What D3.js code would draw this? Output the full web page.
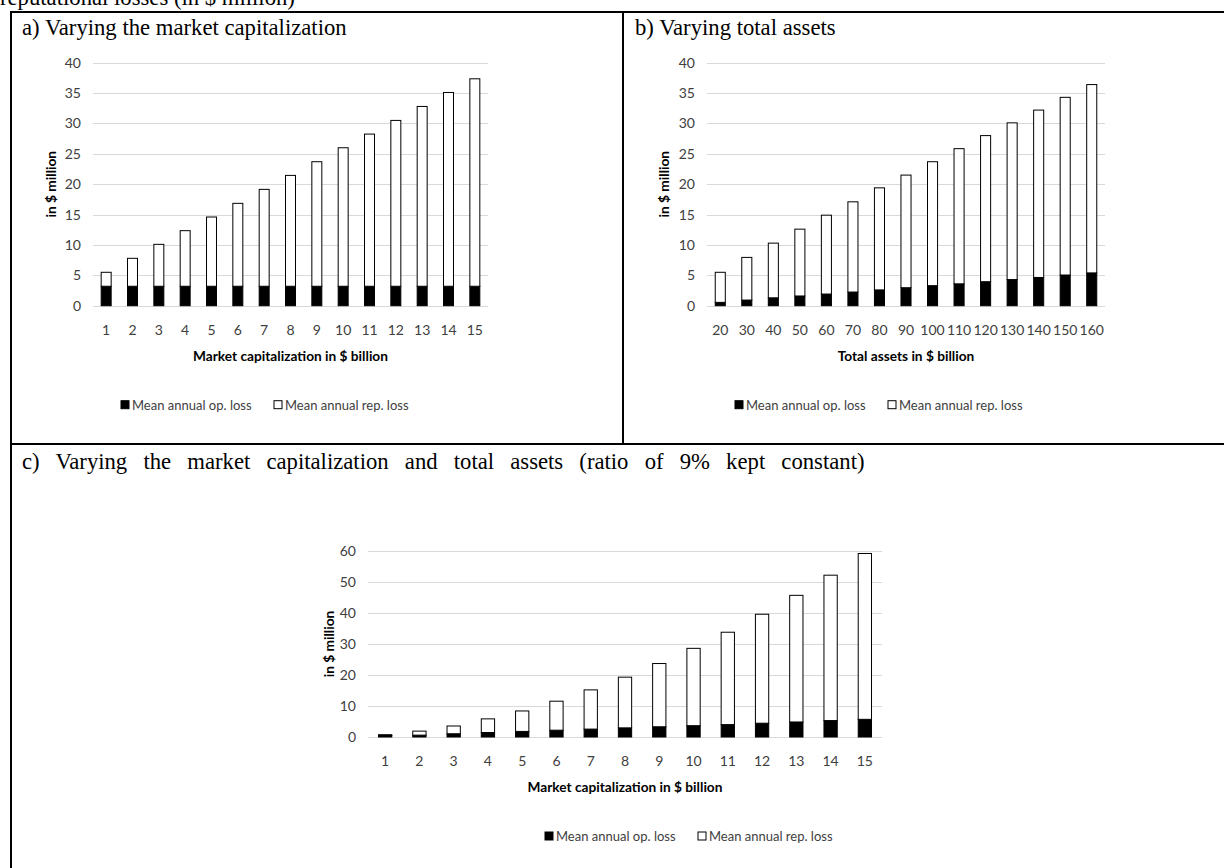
<!DOCTYPE html>
<html>
<head>
<meta charset="utf-8">
<script src="https://cdn.jsdelivr.net/npm/d3@7"></script>
<style>
  html, body { margin: 0; padding: 0; background: #fff; }
  svg { display: block; }
</style>
</head>
<body>
<svg id="fig" width="1224" height="868"></svg>
<script>
// ---- data -------------------------------------------------------------
const capCategories = ["1","2","3","4","5","6","7","8","9","10","11","12","13","14","15"];
const assetCategories = ["20","30","40","50","60","70","80","90","100","110","120","130","140","150","160"];

// a) varying the market capitalization (in $ million)
const opLossA  = [3.2, 3.2, 3.2, 3.2, 3.2, 3.2, 3.2, 3.2, 3.2, 3.2, 3.2, 3.2, 3.2, 3.2, 3.2];
const repLossA = [2.3, 4.6, 6.9, 9.15, 11.4, 13.65, 15.95, 18.25, 20.5, 22.8, 25.05, 27.3, 29.6, 31.9, 34.15];

// b) varying total assets (in $ million)
const opLossB  = [0.55, 0.93, 1.3, 1.6, 1.92, 2.25, 2.6, 2.96, 3.3, 3.6, 3.95, 4.3, 4.65, 5.05, 5.4];
const repLossB = [4.95, 7.02, 9.0, 11.0, 12.98, 14.85, 16.8, 18.54, 20.4, 22.25, 24.05, 25.8, 27.55, 29.25, 31.0];

// c) varying market capitalization and total assets together (in $ million)
const opLossC  = [0.45, 0.6, 1.05, 1.45, 1.8, 2.2, 2.55, 2.95, 3.3, 3.65, 4.0, 4.45, 4.85, 5.3, 5.7];
const repLossC = [0.3, 1.3, 2.5, 4.4, 6.6, 9.35, 12.65, 16.35, 20.4, 24.95, 29.8, 35.15, 40.85, 46.9, 53.5];

const yTicksAB = [0, 5, 10, 15, 20, 25, 30, 35, 40];
const yTicksC  = [0, 10, 20, 30, 40, 50, 60];

const seriesNames = ["Mean annual op. loss", "Mean annual rep. loss"];

// ---- drawing ----------------------------------------------------------
const svg = d3.select("#fig");
const serif = "'Liberation Serif', 'Times New Roman', serif";
const sans = "Lato, Carlito, Calibri, sans-serif";

svg.append("rect").attr("width", 1224).attr("height", 868).attr("fill", "#fff");

// caption line running off the top edge
svg.append("text")
  .attr("x", 0).attr("y", 5)
  .attr("font-family", serif).attr("font-size", 22.7)
  .text("reputational losses (in $ million)");

// table frame
const frame = svg.append("g").attr("stroke", "#000").attr("stroke-width", 2);
frame.append("line").attr("x1", 10).attr("x2", 1224).attr("y1", 12).attr("y2", 12);
frame.append("line").attr("x1", 10).attr("x2", 1224).attr("y1", 444).attr("y2", 444);
frame.append("line").attr("x1", 11).attr("x2", 11).attr("y1", 11).attr("y2", 868);
frame.append("line").attr("x1", 623).attr("x2", 623).attr("y1", 11).attr("y2", 444);

// panel headings
function heading(x, y, txt, wordSpacing) {
  svg.append("text").attr("x", x).attr("y", y)
    .attr("font-family", serif).attr("font-size", 22.7).attr("fill", "#000")
    .attr("word-spacing", wordSpacing || 0)
    .text(txt);
}
heading(22, 35, "a) Varying the market capitalization");
heading(635, 35, "b) Varying total assets");
heading(22, 469, "c) Varying the market capitalization and total assets (ratio of 9% kept constant)", 10.5);

function stackedChart(cfg) {
  const g = svg.append("g");
  const { left, right, top, bottom } = cfg.plot;

  const x = d3.scaleBand()
    .domain(cfg.categories)
    .range([left, right])
    .paddingInner(0.583)
    .paddingOuter(0.2915);

  const yMax = cfg.yTicks[cfg.yTicks.length - 1];
  const y = d3.scaleLinear().domain([0, yMax]).range([bottom, top]);

  // horizontal gridlines
  g.append("g").selectAll("line").data(cfg.yTicks).join("line")
    .attr("x1", left).attr("x2", right)
    .attr("y1", d => Math.round(y(d)) + 0.5).attr("y2", d => Math.round(y(d)) + 0.5)
    .attr("stroke", "#d9d9d9").attr("stroke-width", 1);

  // value axis labels
  const yAxis = d3.axisLeft(y).tickValues(cfg.yTicks).tickSize(0).tickPadding(12);
  const ya = g.append("g").attr("transform", `translate(${left},0)`).call(yAxis);
  ya.select(".domain").remove();
  ya.selectAll("text").attr("font-family", sans).attr("font-size", 14).attr("fill", "#404040");

  // category axis labels
  const xAxis = d3.axisBottom(x).tickSize(0).tickPadding(19);
  const xa = g.append("g").attr("transform", `translate(0,${bottom})`).call(xAxis);
  xa.select(".domain").remove();
  xa.selectAll("text").attr("font-family", sans).attr("font-size", 14).attr("fill", "#404040");

  // stacked bars
  const rows = cfg.categories.map((c, i) => ({ c, op: cfg.op[i], rep: cfg.rep[i] }));
  const stack = d3.stack().keys(["op", "rep"])(rows);
  const fills = { op: "#000", rep: "#fff" };
  stack.forEach(layer => {
    g.append("g").selectAll("rect").data(layer).join("rect")
      .attr("x", d => x(d.data.c) + 0.5)
      .attr("width", x.bandwidth() - 1)
      .attr("y", d => y(d[1]))
      .attr("height", d => y(d[0]) - y(d[1]))
      .attr("fill", fills[layer.key])
      .attr("stroke", "#000").attr("stroke-width", 1);
  });

  // axis titles
  g.append("text")
    .attr("transform", `translate(${cfg.yTitleX},${(top + bottom) / 2}) rotate(-90)`)
    .attr("text-anchor", "middle")
    .attr("font-family", sans).attr("font-size", 13.7).attr("font-weight", "bold").attr("fill", "#000")
    .text("in $ million");
  g.append("text")
    .attr("x", (left + right) / 2).attr("y", bottom + 55)
    .attr("text-anchor", "middle")
    .attr("font-family", sans).attr("font-size", 13.7).attr("font-weight", "bold").attr("fill", "#000")
    .text(cfg.xTitle);

  // legend
  const lg = g.append("g").attr("transform", `translate(${cfg.legendX},${bottom + 104})`);
  const swatch = [{ fill: "#000", dx: 0 }, { fill: "#fff", dx: cfg.legendGap }];
  swatch.forEach((s, i) => {
    lg.append("rect").attr("x", s.dx).attr("y", -9).attr("width", 8).attr("height", 8)
      .attr("fill", s.fill).attr("stroke", "#000").attr("stroke-width", 1);
    lg.append("text").attr("x", s.dx + 11).attr("y", 0)
      .attr("font-family", sans).attr("font-size", 13).attr("fill", "#404040")
      .text(seriesNames[i]);
  });
}

stackedChart({
  categories: capCategories, op: opLossA, rep: repLossA, yTicks: yTicksAB,
  plot: { left: 93, right: 488, top: 62.7, bottom: 305.7 },
  yTitleX: 56, xTitle: "Market capitalization in $ billion",
  legendX: 121, legendGap: 153
});

stackedChart({
  categories: assetCategories, op: opLossB, rep: repLossB, yTicks: yTicksAB,
  plot: { left: 707, right: 1105, top: 62.7, bottom: 305.7 },
  yTitleX: 669, xTitle: "Total assets in $ billion",
  legendX: 735, legendGap: 153
});

stackedChart({
  categories: capCategories, op: opLossC, rep: repLossC, yTicks: yTicksC,
  plot: { left: 368, right: 882, top: 551, bottom: 737 },
  yTitleX: 334, xTitle: "Market capitalization in $ billion",
  legendX: 545, legendGap: 153
});
</script>
</body>
</html>
